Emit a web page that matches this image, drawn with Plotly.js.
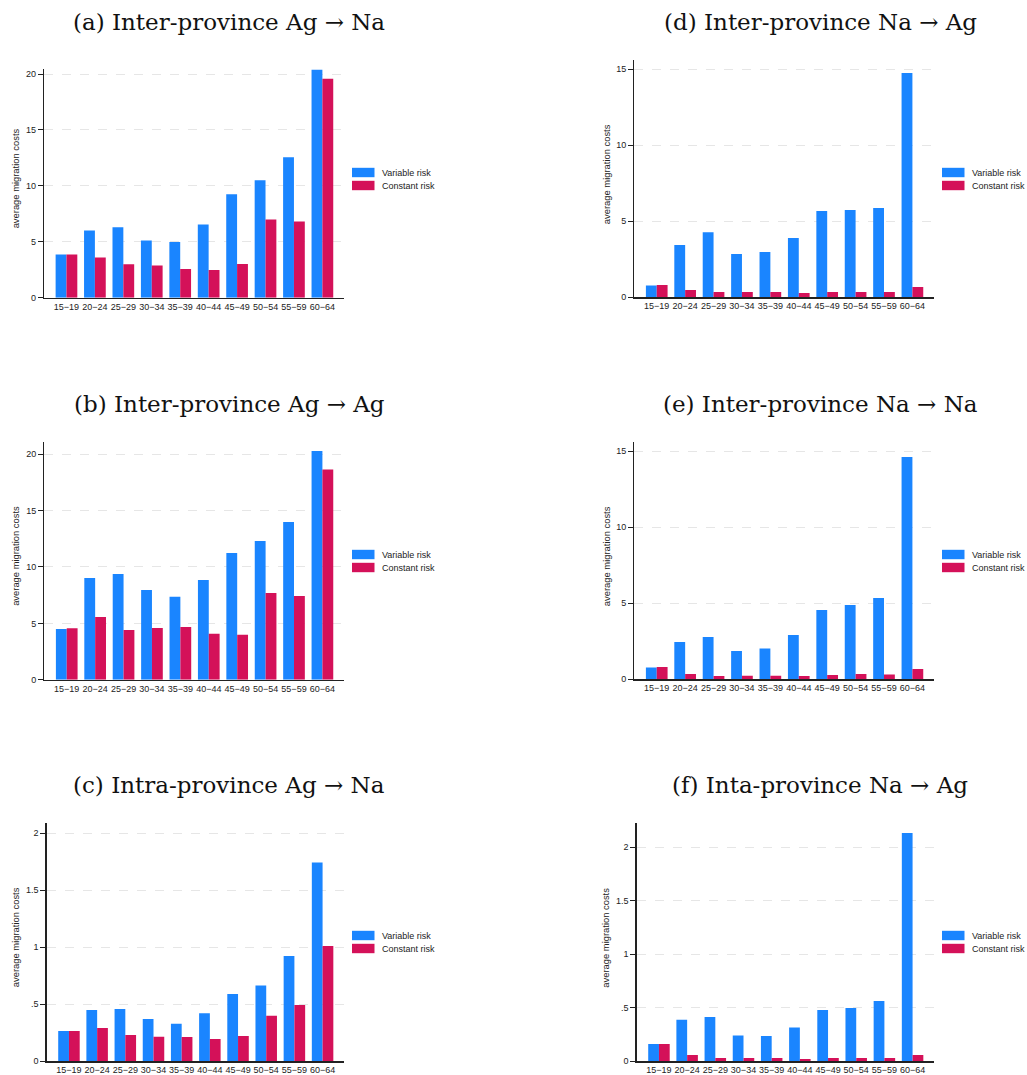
<!DOCTYPE html>
<html>
<head>
<meta charset="utf-8">
<script src="https://cdn.plot.ly/plotly-3.0.1.min.js"></script>
<style>html,body{margin:0;padding:0;background:#fff;}#chart{width:1027px;height:1075px;}</style>
</head>
<body>
<div id="chart"></div>
<script>
// ---- data ----
const ageGroups = ['15\u221219','20\u221224','25\u221229','30\u221234','35\u221239','40\u221244','45\u221249','50\u221254','55\u221259','60\u221264'];
const seriesNames = ['Variable risk', 'Constant risk'];
const panelTitles = ['(a) Inter-province Ag \u2192 Na', '(b) Inter-province Ag \u2192 Ag', '(c) Intra-province Ag \u2192 Na',
                     '(d) Inter-province Na \u2192 Ag', '(e) Inter-province Na \u2192 Na', '(f) Inta-province Na \u2192 Ag'];
const yAxisLabel = 'average migration costs';

const aVariable = [3.87, 6.01, 6.31, 5.12, 4.97, 6.55, 9.26, 10.5, 12.56, 20.39];
const aConstant = [3.87, 3.60, 2.98, 2.89, 2.56, 2.47, 3.01, 6.99, 6.82, 19.58];
const bVariable = [4.50, 9.02, 9.38, 7.96, 7.37, 8.85, 11.24, 12.31, 13.99, 20.30];
const bConstant = [4.56, 5.56, 4.41, 4.59, 4.67, 4.08, 3.99, 7.69, 7.43, 18.64];
const cVariable = [0.266, 0.450, 0.459, 0.371, 0.330, 0.421, 0.590, 0.664, 0.924, 1.743];
const cConstant = [0.266, 0.292, 0.231, 0.216, 0.213, 0.196, 0.222, 0.400, 0.494, 1.012];
const dVariable = [0.77, 3.44, 4.28, 2.85, 2.98, 3.90, 5.68, 5.75, 5.88, 14.76];
const dConstant = [0.81, 0.48, 0.35, 0.35, 0.35, 0.29, 0.35, 0.35, 0.35, 0.68];
const eVariable = [0.77, 2.46, 2.79, 1.86, 2.02, 2.92, 4.56, 4.89, 5.35, 14.63];
const eConstant = [0.81, 0.35, 0.22, 0.24, 0.24, 0.22, 0.29, 0.35, 0.31, 0.68];
const fVariable = [0.162, 0.389, 0.414, 0.240, 0.237, 0.315, 0.480, 0.498, 0.564, 2.134];
const fConstant = [0.162, 0.059, 0.031, 0.031, 0.031, 0.022, 0.031, 0.031, 0.031, 0.059];

const ticksLarge20 = [0, 5, 10, 15, 20];
const ticksLarge15 = [0, 5, 10, 15];
const ticksSmall = [0, 0.5, 1, 1.5, 2];
const ticksSmallText = ['0', '.5', '1', '1.5', '2'];

// ---- layout helpers ----
const W = 1027, H = 1075;
const px = v => v / W;
const py = v => 1 - v / H;
const BLUE = '#1a85ff', RED = '#d41159';

const panels = [
  {v: aVariable, c: aConstant, L: 44,   R: 344, top: 69,  bot: 297.7, ymax: 20.45, tv: ticksLarge20, tt: ticksLarge20.map(String), col: 0, row: 0, t: 0},
  {v: bVariable, c: bConstant, L: 44.3, R: 344, top: 442, bot: 679.7, ymax: 21.09, tv: ticksLarge20, tt: ticksLarge20.map(String), col: 0, row: 1, t: 1},
  {v: cVariable, c: cConstant, L: 46.7, R: 344, top: 823, bot: 1061.3, ymax: 2.09, tv: ticksSmall, tt: ticksSmallText, col: 0, row: 2, t: 2},
  {v: dVariable, c: dConstant, L: 634.3, R: 934, top: 60, bot: 297.3, ymax: 15.61, tv: ticksLarge15, tt: ticksLarge15.map(String), col: 1, row: 0, t: 3},
  {v: eVariable, c: eConstant, L: 634.3, R: 934, top: 442, bot: 679.3, ymax: 15.61, tv: ticksLarge15, tt: ticksLarge15.map(String), col: 1, row: 1, t: 4},
  {v: fVariable, c: fConstant, L: 636.7, R: 934, top: 823, bot: 1061.3, ymax: 2.227, tv: ticksSmall, tt: ticksSmallText, col: 1, row: 2, t: 5}
];

const titleY = [22, 403.5, 784.5];
const titleX = [229, 820];
const axTitleX = [15.5, 606];
const legRow1 = [172.5, 554.5, 935.5];
const legSwX = [352, 942];

const data = [];
const layout = {
  width: W, height: H,
  margin: {l: 0, r: 0, t: 0, b: 0},
  paper_bgcolor: '#fff', plot_bgcolor: '#fff',
  barmode: 'group', bargap: 0.237, bargroupgap: 0,
  showlegend: false,
  font: {family: 'Liberation Sans, Arial, sans-serif', size: 9, color: '#222'},
  annotations: [], shapes: []
};

panels.forEach((p, i) => {
  const n = i + 1;
  const xa = 'x' + (n === 1 ? '' : n), ya = 'y' + (n === 1 ? '' : n);
  data.push({type: 'bar', x: ageGroups, y: p.v, name: seriesNames[0], xaxis: xa, yaxis: ya,
             marker: {color: BLUE, line: {width: 0}}, hoverinfo: 'x+y+name'});
  data.push({type: 'bar', x: ageGroups, y: p.c, name: seriesNames[1], xaxis: xa, yaxis: ya,
             marker: {color: RED, line: {width: 0}}, hoverinfo: 'x+y+name'});
  layout['xaxis' + (n === 1 ? '' : n)] = {
    domain: [px(p.L), px(p.R)], anchor: ya, type: 'category',
    range: [-0.79, 9.76], showline: true, linecolor: '#222', linewidth: 1.3,
    ticks: '', showgrid: false, zeroline: false, fixedrange: true,
    tickfont: {size: 9, color: '#222'}, tickangle: 0
  };
  layout['yaxis' + (n === 1 ? '' : n)] = {
    domain: [py(p.bot), py(p.top)], anchor: xa,
    range: [0, p.ymax], showline: true, linecolor: '#222', linewidth: 1.3,
    ticks: 'outside', ticklen: 5, tickwidth: 1, tickcolor: '#222',
    tickvals: p.tv, ticktext: p.tt, tickfont: {size: 9, color: '#222'},
    showgrid: true, gridcolor: '#e6e6e6', gridwidth: 1, griddash: 'dash',
    zeroline: false, fixedrange: true
  };
  // panel title
  layout.annotations.push({xref: 'paper', yref: 'paper', x: px(titleX[p.col]), y: py(titleY[p.row]),
    xanchor: 'center', yanchor: 'middle', showarrow: false, text: panelTitles[p.t],
    font: {family: 'DejaVu Serif, serif', size: 23, color: '#111'}});
  // y axis title
  layout.annotations.push({xref: 'paper', yref: 'paper', x: px(axTitleX[p.col]), y: py((p.top + p.bot) / 2 - 4.5),
    xanchor: 'center', yanchor: 'middle', showarrow: false, textangle: -90, text: yAxisLabel,
    font: {size: 9.4, color: '#222'}});
  // legend (drawn per panel)
  [BLUE, RED].forEach((colr, k) => {
    const cy = legRow1[p.row] + k * 13;
    layout.shapes.push({type: 'rect', xref: 'paper', yref: 'paper',
      x0: px(legSwX[p.col]), x1: px(legSwX[p.col] + 22.5), y0: py(cy - 4.7), y1: py(cy + 4.7),
      fillcolor: colr, line: {width: 0}});
    layout.annotations.push({xref: 'paper', yref: 'paper', x: px(legSwX[p.col] + 27.5), y: py(cy),
      xanchor: 'left', yanchor: 'middle', showarrow: false, text: seriesNames[k],
      font: {size: 9, color: '#222'}});
  });
});

Plotly.newPlot('chart', data, layout, {displayModeBar: false, staticPlot: true});
</script>
</body>
</html>
